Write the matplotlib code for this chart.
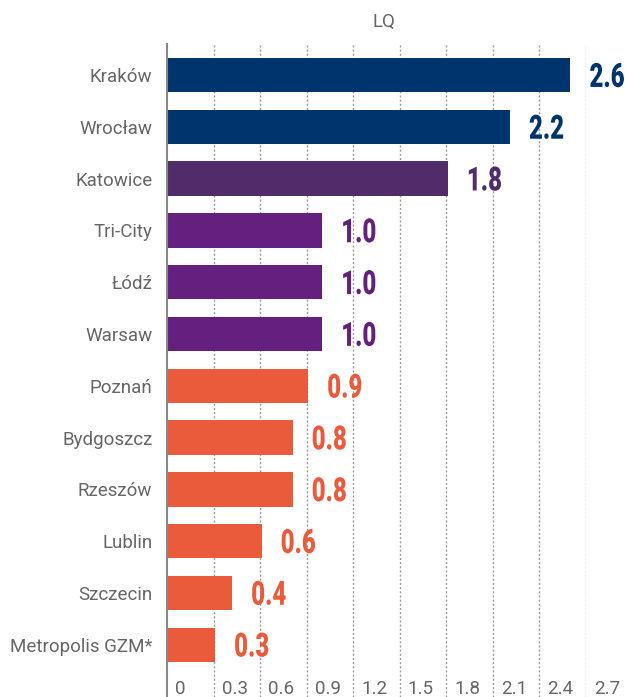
import matplotlib
matplotlib.use("Agg")
import matplotlib.pyplot as plt
from matplotlib import transforms
from matplotlib.transforms import Affine2D
from matplotlib.patheffects import AbstractPathEffect

cities = ["Kraków", "Wrocław", "Katowice", "Tri-City", "Łódź", "Warsaw",
          "Poznań", "Bydgoszcz", "Rzeszów", "Lublin", "Szczecin", "Metropolis GZM*"]
lq = [2.60, 2.21, 1.81, 1.00, 1.00, 1.00, 0.91, 0.81, 0.81, 0.61, 0.42, 0.31]
colors = ["#00346C", "#00346C", "#502C6A", "#65207F", "#65207F", "#65207F",
          "#EA5B3C", "#EA5B3C", "#EA5B3C", "#EA5B3C", "#EA5B3C", "#EA5B3C"]
xticks = [0, 0.3, 0.6, 0.9, 1.2, 1.5, 1.8, 2.1, 2.4, 2.7]
xtick_labels = ["0", "0.3", "0.6", "0.9", "1.2", "1.5", "1.8", "2.1", "2.4", "2.7"]


class VStretch(AbstractPathEffect):
    """Draw text glyphs stretched vertically about the baseline (condensed look)."""
    def __init__(self, sy):
        super().__init__()
        self.sy = sy

    def draw_path(self, renderer, gc, tpath, affine, rgbFace=None):
        _, oy = affine.transform((0, 0))
        a = affine + Affine2D().translate(0, -oy).scale(1, self.sy).translate(0, oy)
        renderer.draw_path(gc, tpath, a, rgbFace)


W, H = 625, 697
fig = plt.figure(figsize=(W / 100, H / 100), dpi=100)
ax = fig.add_axes([167 / W, 0, (586 - 167) / W, (697 - 44) / H])

label_font = "Roboto"
gray = "#666666"

y = list(range(len(cities)))
ax.barh(y, lq, height=0.663, color=colors, zorder=2)
ax.set_ylim(12.01, -0.6)
ax.set_xlim(0, 2.7)

for t in xticks[1:]:
    ax.axvline(t, color="#9a9a9a", lw=1.0, ls=(0, (1.5, 1.5)), zorder=1)

for s in ["top", "right", "bottom"]:
    ax.spines[s].set_visible(False)
ax.spines["left"].set_color("#888888")
ax.spines["left"].set_linewidth(1.5)

ax.set_yticks(y)
ax.set_yticklabels(cities, fontsize=13.5, color=gray, family=label_font)
ax.tick_params(axis="y", length=0, pad=10.5)
ax.set_xticks([])

trans = transforms.blended_transform_factory(ax.transData, ax.transAxes)
offset = transforms.ScaledTranslation(8 / 100, 0, fig.dpi_scale_trans)
for t, lab in zip(xticks, xtick_labels):
    ax.text(t, 0.026, lab, transform=trans + offset, ha="left", va="top",
            fontsize=13.5, color=gray, family=label_font)

# value labels: small font, stretched vertically -> tall condensed digits
vsize = 17.3
stretch = 1 / 0.72
cap_px = 0.711 * vsize * stretch * 100 / 72
voff = transforms.ScaledTranslation(19 / 100, -cap_px / 2 / 100, fig.dpi_scale_trans)
for yi, v, c in zip(y, lq, colors):
    ax.text(v, yi, f"{v:.1f}", transform=ax.transData + voff, ha="left",
            va="baseline", fontsize=vsize, fontweight="heavy", color=c,
            family=["Roboto", "DejaVu Sans"], clip_on=False,
            path_effects=[VStretch(stretch)])

fig.text(384 / W, 1 - 22 / H, "LQ", ha="center", va="center", fontsize=13.5,
         color=gray, family=label_font)

fig.savefig("out.png", dpi=100)
